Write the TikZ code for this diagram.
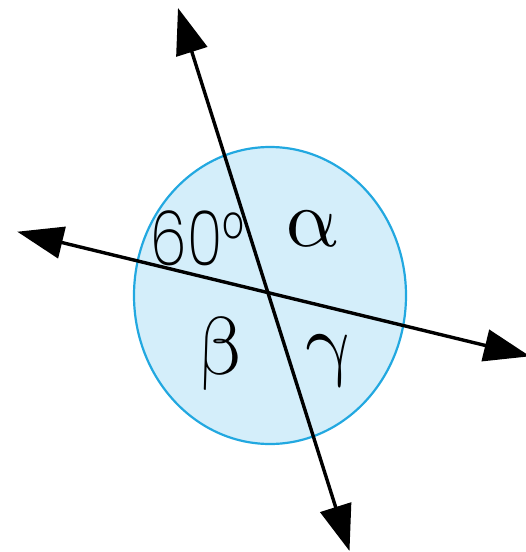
\documentclass[tikz,border=0pt]{standalone}
\usepackage{fontspec}
\setmainfont{Liberation Serif}
\newfontfamily\degfont{Poppins}[UprightFont=* ExtraLight,FakeStretch=0.77]
\usetikzlibrary{arrows.meta}
\definecolor{discfill}{HTML}{D4EEFA}
\definecolor{discline}{HTML}{22A8E0}
\begin{document}
\begin{tikzpicture}[x=1pt,y=-1pt,
  tip/.tip={Triangle[length=46pt,width=32pt]},
  ray/.style={line width=3.4pt,{tip}-{tip}},
  greek/.style={inner sep=0pt,transform shape,xslant=-0.22,scale=8.2,font=\fontsize{10}{12}\selectfont},
  deg/.style={inner sep=0pt,font=\degfont\fontsize{76}{76}\selectfont}]
\useasboundingbox (0,0) rectangle (526,552);
\draw[fill=discfill,draw=discline,line width=2.2pt] (270,295.5) ellipse [x radius=136, y radius=148.5];
\coordinate (O) at (266.7,292.3);
\coordinate (T) at (178,8);
\coordinate (B) at (349.5,551);
\coordinate (L) at (17.3,231.7);
\coordinate (R) at (530,356.3);
\draw[ray] (T) -- (B);
\draw[ray] (L) -- (R);
\node[deg] (a60) at (197.5,238) {60°};
\node[greek] (alpha) at (311.5,229) {$\alpha$};
\node[greek] (beta) at (219,354) {$\beta$};
\node[greek] (gamma) at (331.7,360.5) {$\gamma$};
\end{tikzpicture}
\end{document}
